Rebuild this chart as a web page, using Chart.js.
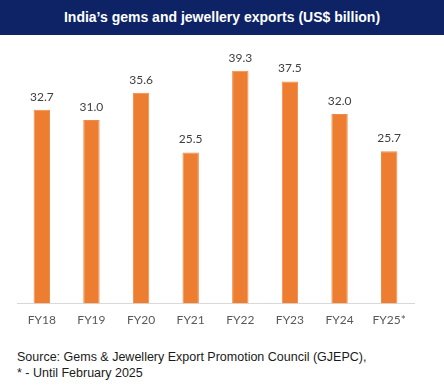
<!DOCTYPE html>
<html>
<head>
<meta charset="utf-8">
<script src="https://cdn.jsdelivr.net/npm/chart.js@4"></script>
<style>
  body { margin: 0; width: 444px; height: 388px; background: #fff; overflow: hidden; }
  #title { height: 35px; background: #0d2366; color: #fff; font: bold 14px "Liberation Sans", Arial, sans-serif;
           text-align: center; line-height: 35px; }
  #wrap { position: relative; width: 444px; height: 310px; }
  #note { position: absolute; left: 17px; top: 349px; font: 12.5px "Liberation Sans", Arial, sans-serif;
          color: #1a1a1a; line-height: 16px; }
</style>
</head>
<body>
<div id="title">India’s gems and jewellery exports (US$ billion)</div>
<div id="wrap"><canvas id="myChart"></canvas></div>
<div id="note">Source: Gems &amp; Jewellery Export Promotion Council (GJEPC),<br>* - Until February 2025</div>
<script>
// Données du graphique
const years = ['FY18', 'FY19', 'FY20', 'FY21', 'FY22', 'FY23', 'FY24', 'FY25*'];
const exportsBn = [32.7, 31.0, 35.6, 25.5, 39.3, 37.5, 32.0, 25.7];

// Étiquettes de valeur au-dessus des barres
const valueLabels = {
  id: 'valueLabels',
  afterDatasetsDraw(chart) {
    const ctx = chart.ctx;
    const meta = chart.getDatasetMeta(0);
    ctx.save();
    ctx.font = '12px Lato, "Open Sans", sans-serif';
    ctx.fillStyle = '#404040';
    ctx.textAlign = 'center';
    ctx.textBaseline = 'bottom';
    meta.data.forEach((bar, i) => {
      ctx.fillText(exportsBn[i].toFixed(1), bar.x, bar.y - 7);
    });
    ctx.restore();
  }
};

const ctx = document.getElementById('myChart').getContext('2d');
const myChart = new Chart(ctx, {
  type: 'bar',
  data: {
    labels: years,
    datasets: [{
      data: exportsBn,
      backgroundColor: '#ed7d31',
      borderColor: '#f08a45',
      borderWidth: 1,
      categoryPercentage: 1,
      barPercentage: 0.33
    }]
  },
  options: {
    responsive: true,
    maintainAspectRatio: false,
    animation: false,
    layout: { padding: { left: 17, right: 30, top: 2, bottom: 9 } },
    plugins: { legend: { display: false }, tooltip: { enabled: false } },
    scales: {
      x: {
        grid: { display: false, drawTicks: false },
        border: { display: true, color: '#d9d9d9', width: 1 },
        ticks: { color: '#595959', font: { family: 'Lato', size: 12 }, padding: 9 }
      },
      y: {
        display: false,
        min: 0,
        max: 45
      }
    }
  },
  plugins: [valueLabels]
});
</script>
</body>
</html>
